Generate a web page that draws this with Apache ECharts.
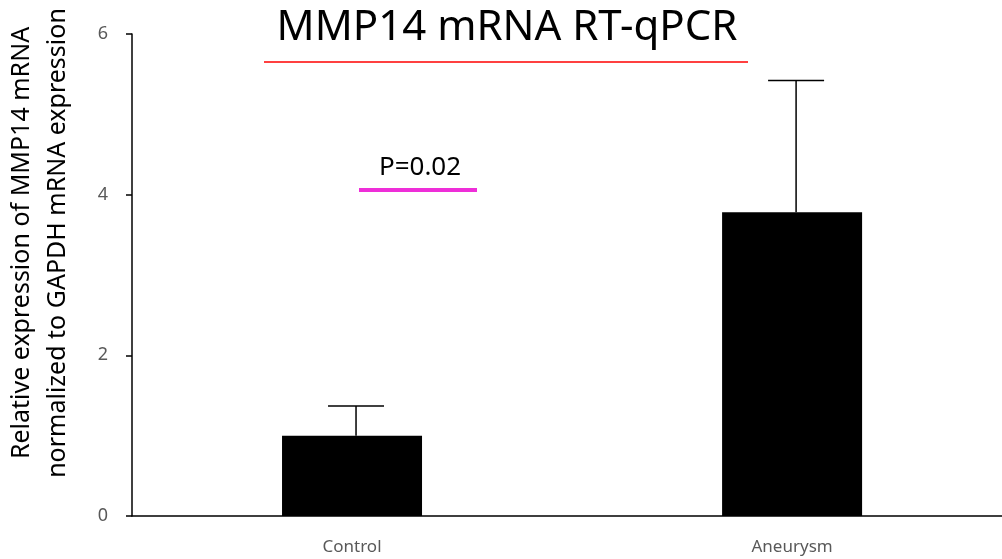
<!DOCTYPE html>
<html>
<head>
<meta charset="utf-8">
<script src="https://cdn.jsdelivr.net/npm/echarts@6/dist/echarts.min.js"></script>
<style>html,body{margin:0;padding:0;background:#fff}#c{width:1002px;height:559px}</style>
</head>
<body>
<div id="c"></div>
<script>
var categories = ['Control', 'Aneurysm'];
var means = [1.0, 3.78];
var errorTops = [1.37, 5.42];
var yTicks = [0, 2, 4, 6];
var titleText = 'MMP14 mRNA RT-qPCR';
var pText = 'P=0.02';
var yNameLines = ['Relative expression of MMP14 mRNA', 'normalized to GAPDH mRNA expression'];

var FONT = 'Noto Sans';
var chart = echarts.init(document.getElementById('c'));
var catIdx = categories.map(function (c, i) { return i; });
var barData = categories.map(function (c, i) { return [i, means[i]]; });
var errData = categories.map(function (c, i) { return [i, means[i], errorTops[i]]; });

chart.setOption({
  animation: false,
  grid: { left: 132, right: 0, top: 34, bottom: 43 },
  xAxis: {
    type: 'value',
    min: -0.5,
    max: 1.477,
    axisLine: { show: true, onZero: false, lineStyle: { color: '#000', width: 1.5 } },
    axisTick: { show: false },
    splitLine: { show: false },
    axisLabel: {
      customValues: catIdx,
      formatter: function (v) { return categories[Math.round(v)] || ''; },
      color: '#595959', fontSize: 17, fontFamily: FONT, margin: 23
    }
  },
  yAxis: {
    type: 'value',
    min: yTicks[0],
    max: yTicks[yTicks.length - 1],
    interval: yTicks[1] - yTicks[0],
    axisLine: { show: true, onZero: false, lineStyle: { color: '#000', width: 1.5 } },
    axisTick: { show: true, length: 6, lineStyle: { color: '#000', width: 1.5 } },
    axisLabel: { color: '#595959', fontSize: 18, fontFamily: FONT, margin: 24 },
    splitLine: { show: false }
  },
  series: [
    {
      type: 'bar',
      data: barData,
      barWidth: 140,
      itemStyle: { color: '#000' }
    },
    {
      type: 'custom',
      data: errData,
      z: 1,
      renderItem: function (params, api) {
        var i = api.value(0);
        var base = api.coord([i, api.value(1)]);
        var top = api.coord([i, api.value(2)]);
        var x = base[0] + 4;
        var hw = 28;
        return {
          type: 'group',
          children: [
            { type: 'line', shape: { x1: x, y1: base[1], x2: x, y2: top[1] }, style: { stroke: '#000', lineWidth: 1.5 } },
            { type: 'line', shape: { x1: x - hw, y1: top[1], x2: x + hw, y2: top[1] }, style: { stroke: '#000', lineWidth: 1.5 } }
          ]
        };
      }
    }
  ],
  graphic: [
    { type: 'text', style: { text: titleText, x: 507, y: 49, fill: '#000', font: '42px "' + FONT + '"', textAlign: 'center', textVerticalAlign: 'bottom' } },
    { type: 'line', shape: { x1: 264, y1: 62, x2: 748, y2: 62 }, style: { stroke: '#ff0000', lineWidth: 1.5 } },
    { type: 'text', style: { text: pText, x: 420, y: 181, fill: '#000', font: '26px "' + FONT + '"', textAlign: 'center', textVerticalAlign: 'bottom' } },
    { type: 'line', shape: { x1: 359, y1: 190, x2: 477, y2: 190 }, style: { stroke: '#EE2ED8', lineWidth: 4 } },
    { type: 'text', rotation: Math.PI / 2, x: 40, y: 243, style: { text: yNameLines.join('\n'), fill: '#000', font: '25px "' + FONT + '"', lineHeight: 36, textAlign: 'center', textVerticalAlign: 'middle' } }
  ]
});
</script>
</body>
</html>
